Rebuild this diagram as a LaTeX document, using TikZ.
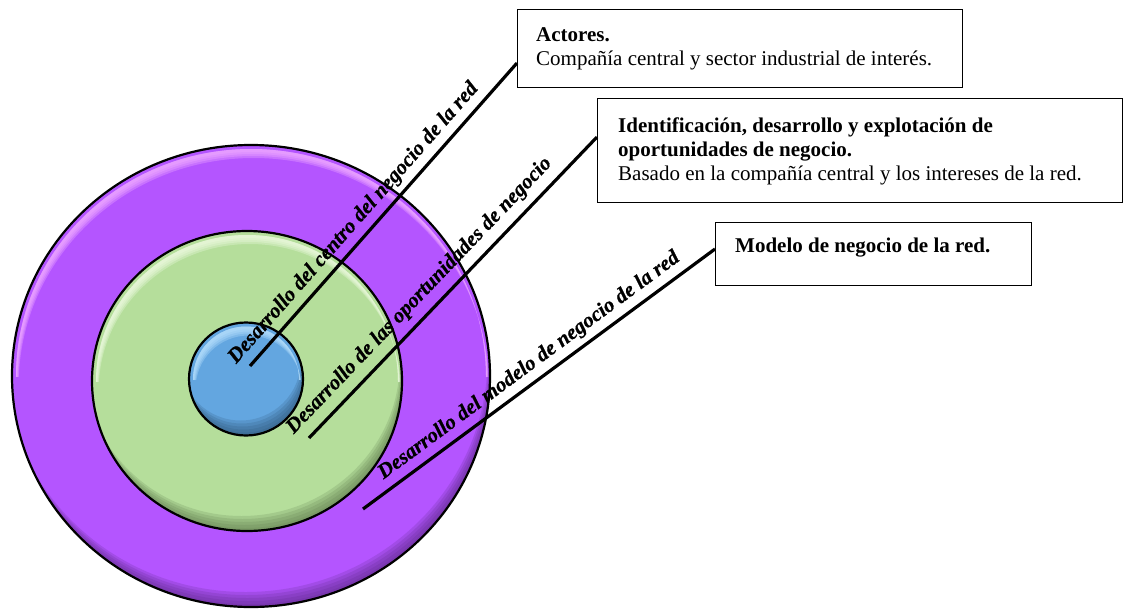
\documentclass[tikz,border=0pt]{standalone}
\usepackage{fontspec}
\setmainfont{Liberation Serif}
\newfontfamily\ringfont{Liberation Serif}[FakeBold=0.8]
\usetikzlibrary{shapes.geometric}

% disc fills and bevel tones
\definecolor{ringpurple}{HTML}{B455FF}
\definecolor{ringpurpleL}{HTML}{F4B0FF}
\definecolor{ringpurpleD}{HTML}{5E2A8A}
\definecolor{ringgreen}{HTML}{B5DE9B}
\definecolor{ringgreenL}{HTML}{F0FCE4}
\definecolor{ringgreenD}{HTML}{5E7A4C}
\definecolor{coreblue}{HTML}{63A6E0}
\definecolor{coreblueL}{HTML}{BCE4FF}
\definecolor{coreblueD}{HTML}{2E5578}

\tikzset{
  % bevelled disc: x radius, y radius, base, light, dark
  disc/.style n args={5}{
    ellipse, inner sep=0pt, minimum width={2*#1pt}, minimum height={2*#2pt},
    fill=#3, draw=black, line width=2.2pt,
    path picture={
      % shadow crescent along the lower rim
      \foreach \s in {6,9,12,15,18}{
        \fill[#5, opacity=0.2, even odd rule]
          (path picture bounding box.center)
          ellipse [x radius={#1pt+3pt}, y radius={#2pt+3pt}]
          ([xshift={-0.3*\s pt}, yshift={\s pt}]path picture bounding box.center)
          ellipse [x radius={#1pt+3pt}, y radius={#2pt+3pt}];
      }
      % highlight crescent just inside the upper rim
      \begin{scope}
        \clip (path picture bounding box.north west) rectangle (path picture bounding box.east);
        \foreach \s in {3,5,7,9}{
          \fill[#4, opacity=0.32, even odd rule]
            (path picture bounding box.center)
            ellipse [x radius={#1pt-4pt}, y radius={#2pt-4pt}]
            ([xshift={0.3*\s pt}, yshift={-\s pt}]path picture bounding box.center)
            ellipse [x radius={#1pt-4pt}, y radius={#2pt-4pt}];
        }
      \end{scope}
    }
  },
  infobox/.style={draw=black, line width=1pt, fill=white, anchor=north west, inner sep=0pt},
  boxtext/.style={anchor=base west, inner sep=0pt, font=\fontsize{21}{24}\selectfont},
  leader/.style={draw=black, line width=3.2pt},
  ringlabel/.style={sloped, inner sep=0pt, font=\ringfont\fontsize{21}{24}\selectfont\bfseries\itshape}
}

\begin{document}
\begin{tikzpicture}[x=1pt, y=-1pt]
  \fill[white] (0,0) rectangle (1123,610);
  \useasboundingbox (0,0) rectangle (1123,610);

  % concentric rings
  \node[disc={239}{231}{ringpurple}{ringpurpleL}{ringpurpleD}] (outer) at (251,376) {};
  \node[disc={155}{150}{ringgreen}{ringgreenL}{ringgreenD}] (middle) at (247,381) {};
  \node[disc={57}{56.5}{coreblue}{coreblueL}{coreblueD}] (core) at (246,379) {};

  % description boxes
  \node[infobox, minimum width=445pt, minimum height=78pt] (b1) at (517,9) {};
  \node[infobox, minimum width=525pt, minimum height=104pt] (b2) at (597,98) {};
  \node[infobox, minimum width=316pt, minimum height=63pt] (b3) at (715,222) {};

  \node[boxtext] (t1a) at (536,41.7) {\bfseries Actores.};
  \node[boxtext] (t1b) at (536,65) {Compañía central y sector industrial de interés.};
  \node[boxtext] (t2a) at (618,132.7) {\bfseries Identificación, desarrollo y explotación de};
  \node[boxtext] (t2b) at (618,156.7) {\bfseries oportunidades de negocio.};
  \node[boxtext] (t2c) at (618,180) {Basado en la compañía central y los intereses de la red.};
  \node[boxtext] (t3a) at (735,252.7) {\bfseries Modelo de negocio de la red.};

  % leader lines from the rings to the boxes
  \coordinate (p1) at (250,366);
  \coordinate (p2) at (309,438);
  \coordinate (p3) at (363,509);

  \draw[leader] (p1) -- ([yshift=-54pt]b1.north west)
    node[ringlabel, pos=0.435, above=5.5pt] (l1) {Desarrollo del centro del negocio de la red};
  \draw[leader] (p2) -- ([yshift=-39pt]b2.north west)
    node[ringlabel, pos=0.43, above=7.5pt] (l2) {Desarrollo de las oportunidades de negocio};
  \draw[leader] (p3) -- ([yshift=-27pt]b3.north west)
    node[ringlabel, pos=0.50, above=5.5pt] (l3) {Desarrollo del modelo de negocio de la red};
\end{tikzpicture}
\end{document}
